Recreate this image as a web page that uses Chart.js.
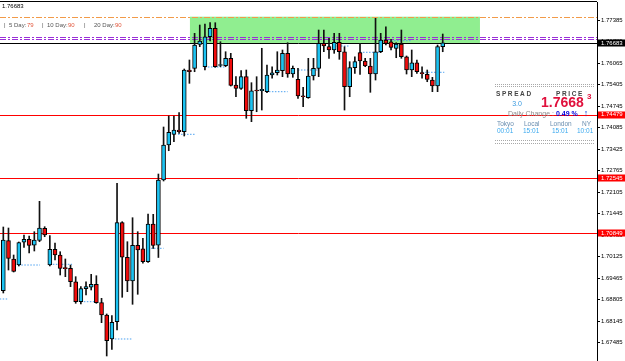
<!DOCTYPE html>
<html>
<head>
<meta charset="utf-8">
<script src="https://cdn.jsdelivr.net/npm/chart.js@4.4.1/dist/chart.umd.min.js"></script>
<style>
  html, body { margin: 0; padding: 0; background: #fff; overflow: hidden; }
  canvas { display: block; }
</style>
</head>
<body>
<canvas id="myChart" width="625" height="361"></canvas>
<script>
// OHLC, one candle per bar, oldest first
const opens = [1.69084, 1.70618, 1.70057, 1.69872, 1.70569, 1.70661, 1.70477, 1.7063, 1.70998, 1.69872,
  1.70354, 1.70179, 1.6978, 1.69771, 1.6936, 1.68747, 1.69146, 1.69189, 1.6928, 1.68716,
  1.68339, 1.67603, 1.68134, 1.7117, 1.70109, 1.69382, 1.70477, 1.70372, 1.69974, 1.7113,
  1.70477, 1.72479, 1.73553, 1.73881, 1.74013, 1.73961, 1.75853, 1.75905, 1.76641, 1.75954,
  1.76874, 1.77132, 1.75991, 1.75985, 1.76212, 1.75393, 1.75292, 1.75648, 1.74605, 1.75218,
  1.75218, 1.75188, 1.757, 1.7577, 1.75832, 1.76365, 1.7573, 1.75568, 1.75056, 1.75004,
  1.75669, 1.75905, 1.76672, 1.76568, 1.76467, 1.76703, 1.76414, 1.75341, 1.75924, 1.76384,
  1.76129, 1.75976, 1.7573, 1.76414, 1.76773, 1.76721, 1.76519, 1.76651, 1.76261, 1.75853,
  1.76077, 1.75752, 1.75721, 1.75546, 1.75362, 1.76568];
const highs = [1.71038, 1.71007, 1.70179, 1.70578, 1.70793, 1.70762, 1.70894, 1.71826, 1.71047, 1.70777,
  1.70547, 1.7028, 1.70057, 1.69872, 1.69514, 1.69207, 1.6936, 1.69587, 1.69544, 1.68851,
  1.6837, 1.68318, 1.72378, 1.71201, 1.70587, 1.71323, 1.70894, 1.70691, 1.71437, 1.71427,
  1.72663, 1.74105, 1.74442, 1.74442, 1.74544, 1.75884, 1.7616, 1.76979, 1.77233, 1.77264,
  1.77304, 1.77304, 1.76721, 1.76414, 1.76365, 1.75648, 1.75832, 1.75853, 1.75464, 1.75648,
  1.76519, 1.76006, 1.75954, 1.76414, 1.76467, 1.7669, 1.75976, 1.75905, 1.75323, 1.76212,
  1.76212, 1.7708, 1.7708, 1.76825, 1.76979, 1.76979, 1.76568, 1.76108, 1.76261, 1.76672,
  1.76212, 1.76212, 1.77439, 1.76979, 1.77181, 1.76795, 1.7669, 1.7708, 1.76283, 1.76467,
  1.7616, 1.75954, 1.75853, 1.75629, 1.7662, 1.76957];
const lows = [1.69014, 1.69719, 1.69658, 1.69842, 1.70409, 1.70241, 1.70302, 1.70587, 1.7074, 1.69842,
  1.70026, 1.69566, 1.69514, 1.69207, 1.68698, 1.68676, 1.68952, 1.69106, 1.68698, 1.68103,
  1.67082, 1.67287, 1.67879, 1.68882, 1.69054, 1.68667, 1.68974, 1.69925, 1.69955, 1.70379,
  1.70103, 1.72449, 1.73378, 1.73654, 1.73912, 1.73829, 1.75445, 1.75801, 1.76568, 1.75853,
  1.76743, 1.75936, 1.75954, 1.75954, 1.75362, 1.75034, 1.75261, 1.74372, 1.74268, 1.74574,
  1.74626, 1.75157, 1.75599, 1.757, 1.75648, 1.75629, 1.75629, 1.74985, 1.74728, 1.74985,
  1.75546, 1.75648, 1.76414, 1.76212, 1.76365, 1.76181, 1.74626, 1.75034, 1.75752, 1.75721,
  1.75954, 1.75169, 1.75546, 1.76384, 1.7662, 1.76467, 1.7623, 1.76212, 1.7573, 1.75648,
  1.75752, 1.75599, 1.75494, 1.75188, 1.75188, 1.76414];
const closes = [1.70639, 1.70072, 1.69679, 1.70563, 1.70661, 1.70471, 1.70639, 1.71007, 1.70793, 1.70354,
  1.70179, 1.69771, 1.69762, 1.6936, 1.68747, 1.69146, 1.69207, 1.6928, 1.68716, 1.68339,
  1.67551, 1.68115, 1.7117, 1.70109, 1.69382, 1.70477, 1.70333, 1.69974, 1.7113, 1.70471,
  1.72479, 1.73553, 1.73942, 1.74013, 1.73961, 1.75853, 1.75801, 1.7662, 1.76743, 1.76874,
  1.77132, 1.75954, 1.76006, 1.76212, 1.75384, 1.75292, 1.75648, 1.74605, 1.75218, 1.75209,
  1.75261, 1.757, 1.7577, 1.75853, 1.76365, 1.7573, 1.75905, 1.75056, 1.75034, 1.75669,
  1.75905, 1.76672, 1.76589, 1.76467, 1.76703, 1.76414, 1.75341, 1.75924, 1.76108, 1.76129,
  1.75976, 1.7573, 1.76414, 1.76773, 1.76672, 1.76549, 1.76651, 1.76261, 1.75853, 1.76077,
  1.75801, 1.75741, 1.75568, 1.75362, 1.76568, 1.76683];

// price axis labels
const priceTicks = [1.77385, 1.76725, 1.76065, 1.75405, 1.74745, 1.74085, 1.73425, 1.72765,
  1.72105, 1.71445, 1.70785, 1.70125, 1.69465, 1.68805, 1.68145, 1.67485];

// horizontal levels
const bidPrice = 1.76683;
const redLevels = [1.74479, 1.72545, 1.70849];
const orangeLevel = 1.77488;
const purpleLevels = [1.76871, 1.76801];
const zoneBars = [36.1, 92.2];
const zonePrices = [1.77488, 1.76683];

// short dotted session-open levels (bar from, bar to, price)
const sessionStart = [-0.7, 2.9, 9, 15, 21, 28, 33.8, 39, 50.8, 57, 63, 69, 75, 81];
const sessionEnd = [1, 7.1, 13.3, 18, 25, 31, 37, 43, 55, 61, 67, 73, 79, 85.3];
const sessionLevels = [1.6883, 1.69872, 1.69894, 1.68747, 1.67603, 1.70385, 1.73881, 1.75945,
  1.75188, 1.75853, 1.76589, 1.76396, 1.76752, 1.75783];

// build datasets
const bars = opens.map((_, i) => i);
const bodyData = bars.map(i => ({ x: i, y: [opens[i], closes[i]] }));
const wickData = bars.map(i => ({ x: i, y: [lows[i], highs[i]] }));
const bodyColors = bars.map(i => closes[i] >= opens[i] ? "#1cc3f2" : "#f00c0c");
const sessionData = [];
sessionLevels.forEach((v, k) => {
  sessionData.push({ x: sessionStart[k], y: v }, { x: sessionEnd[k], y: v }, { x: sessionEnd[k], y: null });
});

const FONT = "Liberation Sans";

function hline(ctx, area, y, price, color, dash) {
  const py = Math.round(y.getPixelForValue(price)) + 0.5;
  ctx.beginPath();
  ctx.setLineDash(dash || []);
  ctx.strokeStyle = color;
  ctx.lineWidth = 1;
  ctx.moveTo(area.left, py);
  ctx.lineTo(area.right, py);
  ctx.stroke();
  ctx.setLineDash([]);
}

function dots(ctx, x1, x2, py) {
  ctx.fillStyle = "#a8a8a8";
  for (let px = x1; px < x2; px += 2) ctx.fillRect(px, py, 1, 1);
}

function txt(ctx, s, x, y, color, font, align) {
  ctx.fillStyle = color;
  ctx.font = font;
  ctx.textAlign = align || "left";
  ctx.textBaseline = "middle";
  ctx.fillText(s, x, y);
}

const overlay = {
  id: "overlay",
  beforeDatasetsDraw(chart) {
    const { ctx, chartArea: a, scales: { x, y } } = chart;
    ctx.save();
    const zx1 = x.getPixelForValue(zoneBars[0]);
    const zx2 = x.getPixelForValue(zoneBars[1]);
    const zy1 = y.getPixelForValue(zonePrices[0]);
    const zy2 = y.getPixelForValue(zonePrices[1]);
    ctx.fillStyle = "#90ee90";
    ctx.fillRect(zx1, zy1, zx2 - zx1, zy2 - zy1);
    hline(ctx, a, y, orangeLevel, "#f29a48", [6, 2, 2, 2]);
    purpleLevels.forEach(p => hline(ctx, a, y, p, "#9a2fd8", [6, 2, 2, 2]));
    hline(ctx, a, y, bidPrice, "#000000");
    redLevels.forEach(p => hline(ctx, a, y, p, "#ff0000"));
    ctx.restore();
  },
  afterDraw(chart) {
    const { ctx, chartArea: a, scales: { y } } = chart;
    ctx.save();
    // frame top
    ctx.fillStyle = "#000";
    ctx.fillRect(0, 1, a.right, 1);

    // price boxes on the axis
    const box = (p, bg) => {
      const py = y.getPixelForValue(p);
      ctx.fillStyle = bg;
      ctx.fillRect(a.right + 1, Math.round(py) - 3.5, 28, 7);
      txt(ctx, p.toFixed(5), a.right + 4, py, "#fff", "6px " + FONT);
    };
    box(bidPrice, "#000");
    redLevels.forEach(p => box(p, "#ff0000"));

    // top left
    txt(ctx, bidPrice.toFixed(5), 2, 6.5, "#000", "6px " + FONT);
    const lab = "#555", num = "#e2583e", f6 = "6px " + FONT;
    txt(ctx, "|", 4, 25, lab, f6);
    txt(ctx, "5 Day:", 9, 25, lab, f6);
    txt(ctx, "79", 27, 25, num, f6);
    txt(ctx, "|", 42, 25, lab, f6);
    txt(ctx, "10 Day:", 47, 25, lab, f6);
    txt(ctx, "90", 68, 25, num, f6);
    txt(ctx, "|", 84, 25, lab, f6);
    txt(ctx, "20 Day:", 94, 25, lab, f6);
    txt(ctx, "90", 115, 25, num, f6);

    // info panel
    dots(ctx, 495, 595, 84);
    dots(ctx, 495, 595, 86);
    ctx.letterSpacing = "1.6px";
    txt(ctx, "SPREAD", 496, 94, "#444", "bold 6.5px " + FONT);
    txt(ctx, "PRICE", 556, 94, "#444", "bold 6.5px " + FONT);
    ctx.letterSpacing = "0px";
    txt(ctx, "3.0", 517, 104, "#3a9ae0", "7px " + FONT, "center");
    txt(ctx, "1.7668", 541, 103.5, "#e0103c", "bold 14px " + FONT);
    txt(ctx, "3", 587, 97, "#e0103c", "bold 8px " + FONT);
    txt(ctx, "Daily Change :", 508, 114, "#8a8a8a", "7px " + FONT);
    txt(ctx, "0.49 %", 556, 114, "#0000dd", "bold 7px " + FONT);
    txt(ctx, "\u2191", 586, 113.5, "#0a3cdc", "bold 9px " + FONT, "center");
    const cityC = "#6b8fb0", timeC = "#3aa8ee", f65 = "6.5px " + FONT;
    txt(ctx, "Tokyo", 497, 124.5, cityC, f65);
    txt(ctx, "Local", 524, 124.5, cityC, f65);
    txt(ctx, "London", 550, 124.5, cityC, f65);
    txt(ctx, "NY", 582, 124.5, cityC, f65);
    txt(ctx, "00:01", 497, 131, timeC, f65);
    txt(ctx, "15:01", 523, 131, timeC, f65);
    txt(ctx, "15:01", 552, 131, timeC, f65);
    txt(ctx, "10:01", 577, 131, timeC, f65);
    dots(ctx, 495, 595, 140);
    dots(ctx, 495, 595, 143);
    ctx.restore();
  }
};

const ctx = document.getElementById("myChart");
new Chart(ctx, {
  type: "bar",
  data: {
    datasets: [
      {
        type: "line",
        data: sessionData,
        borderColor: "#4aa0f0",
        borderWidth: 1,
        borderDash: [1.5, 1.5],
        pointRadius: 0,
        spanGaps: false,
        order: 3,
      },
      {
        data: wickData,
        backgroundColor: "#111",
        borderWidth: 0,
        barThickness: 1,
        grouped: false,
        order: 2,
      },
      {
        data: bodyData,
        backgroundColor: bodyColors,
        borderColor: "#000",
        borderWidth: 1,
        borderSkipped: false,
        barThickness: 4,
        minBarLength: 1,
        grouped: false,
        order: 1,
      },
    ],
  },
  options: {
    responsive: false,
    animation: false,
    layout: { padding: { top: 2, left: 0, right: 0, bottom: 0 } },
    plugins: { legend: { display: false }, tooltip: { enabled: false } },
    scales: {
      x: { type: "linear", display: false, min: -0.64, max: 114.84, offset: false },
      y: {
        position: "right",
        min: 1.66928,
        max: 1.77939,
        afterBuildTicks: s => { s.ticks = priceTicks.map(v => ({ value: v })); },
        afterFit: s => { s.width = 28; s.paddingTop = 0; s.paddingBottom = 0; },
        grid: { drawOnChartArea: false, tickLength: 3, color: "#000", lineWidth: 1 },
        border: { display: true, color: "#000", width: 1 },
        ticks: {
          color: "#000",
          font: { family: FONT, size: 6 },
          padding: 1,
          autoSkip: false,
          callback: v => v.toFixed(5),
        },
      },
    },
  },
  plugins: [overlay],
});
</script>
</body>
</html>
